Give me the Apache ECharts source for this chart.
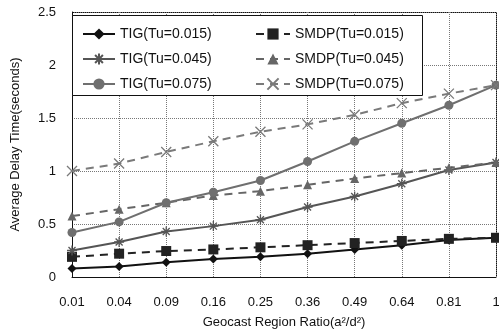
<!DOCTYPE html>
<html><head><meta charset="utf-8">
<script src="https://cdn.jsdelivr.net/npm/echarts@6/dist/echarts.min.js"></script>
<style>html,body{margin:0;padding:0;background:#fff}#c{width:499px;height:332px}</style>
</head><body><div id="c"></div>
<script>
const categories = ['0.01','0.04','0.09','0.16','0.25','0.36','0.49','0.64','0.81','1'];
const yTicks = [0, 0.5, 1, 1.5, 2, 2.5];
const tig015 = [0.08, 0.10, 0.14, 0.17, 0.19, 0.22, 0.26, 0.30, 0.35, 0.37];
const smdp015 = [0.19, 0.22, 0.245, 0.26, 0.28, 0.30, 0.32, 0.34, 0.36, 0.37];
const tig045 = [0.25, 0.33, 0.43, 0.48, 0.54, 0.66, 0.76, 0.88, 1.01, 1.08];
const smdp045 = [0.575, 0.64, 0.70, 0.77, 0.81, 0.87, 0.93, 0.98, 1.03, 1.08];
const tig075 = [0.42, 0.52, 0.70, 0.80, 0.91, 1.09, 1.28, 1.45, 1.62, 1.81];
const smdp075 = [1.00, 1.07, 1.18, 1.28, 1.37, 1.44, 1.53, 1.64, 1.73, 1.81];

const STAR = 'path://M0,5L10,5M5,0L5,10M1.5,1.5L8.5,8.5M8.5,1.5L1.5,8.5';
const XMARK = 'path://M0,0L10,10M10,0L0,10';
const font = 'Arial, "Liberation Sans", sans-serif';

function mk(name, data, color, dashed, symbol, size, strokeSym) {
  return {
    name, type: 'line', data, symbol, symbolSize: size,
    lineStyle: { color, width: 2, type: dashed ? [8, 6] : 'solid' },
    itemStyle: strokeSym ? { color: 'rgba(0,0,0,0)', borderColor: color, borderWidth: 1.3 } : { color },
    emphasis: { disabled: true }, animation: false, z: 3
  };
}

const legendText = { fontFamily: font, fontSize: 14, color: '#111' };
const chart = echarts.init(document.getElementById('c'));
chart.setOption({
  animation: false,
  grid: { left: 72, right: 3, top: 12, bottom: 55, containLabel: false, outerBoundsMode: 'none' },
  xAxis: {
    type: 'category', data: categories, boundaryGap: false,
    name: 'Geocast Region Ratio(a²/d²)', nameLocation: 'middle', nameGap: 39,
    nameTextStyle: { fontFamily: font, fontSize: 13, color: '#111' },
    axisLine: { lineStyle: { color: '#111', width: 1 } },
    axisTick: { show: false },
    axisLabel: { fontFamily: font, fontSize: 13, color: '#111', margin: 19 },
    splitLine: { show: true, lineStyle: { color: '#777', type: 'dotted', width: 1 } }
  },
  yAxis: {
    type: 'value', min: 0, max: 2.5, interval: 0.5,
    name: 'Average Delay Time(seconds)', nameLocation: 'middle', nameGap: 50,
    nameTextStyle: { fontFamily: font, fontSize: 13, color: '#111' },
    axisLine: { show: true, lineStyle: { color: '#111', width: 1 } },
    axisTick: { show: false },
    axisLabel: { fontFamily: font, fontSize: 13, color: '#111', margin: 16,
      formatter: v => yTicks.indexOf(v) >= 0 ? String(v) : '' },
    splitLine: { show: true, lineStyle: { color: '#777', type: 'dotted', width: 1 } }
  },
  legend: [
    { left: 77, top: 22, orient: 'vertical', itemGap: 11, itemWidth: 32, itemHeight: 14,
      textStyle: legendText, z: 10,
      data: ['TIG(Tu=0.015)', 'TIG(Tu=0.045)', 'TIG(Tu=0.075)'] },
    { left: 250, top: 22, orient: 'vertical', itemGap: 11, itemWidth: 34, itemHeight: 14,
      textStyle: legendText, z: 10,
      data: ['SMDP(Tu=0.015)', 'SMDP(Tu=0.045)', 'SMDP(Tu=0.075)'] }
  ],
  graphic: [
    { type: 'rect', left: 72, top: 15, z: 5, shape: { width: 350, height: 80 },
      style: { fill: '#fff', stroke: '#111', lineWidth: 1 } },
    { type: 'rect', right: 2, top: 12, shape: { width: 1, height: 265 },
      style: { fill: '#111' } },
    { type: 'rect', left: 72, top: 12, shape: { width: 425, height: 1 },
      style: { fill: '#111' } }
  ],
  series: [
    mk('TIG(Tu=0.015)', tig015, '#111', false, 'diamond', 9),
    mk('SMDP(Tu=0.015)', smdp015, '#222', true, 'rect', 10),
    mk('TIG(Tu=0.045)', tig045, '#555', false, STAR, 10, true),
    mk('SMDP(Tu=0.045)', smdp045, '#666', true, 'triangle', 9),
    mk('TIG(Tu=0.075)', tig075, '#6f6f6f', false, 'circle', 9),
    mk('SMDP(Tu=0.075)', smdp075, '#7a7a7a', true, XMARK, 10, true)
  ]
});
</script></body></html>
